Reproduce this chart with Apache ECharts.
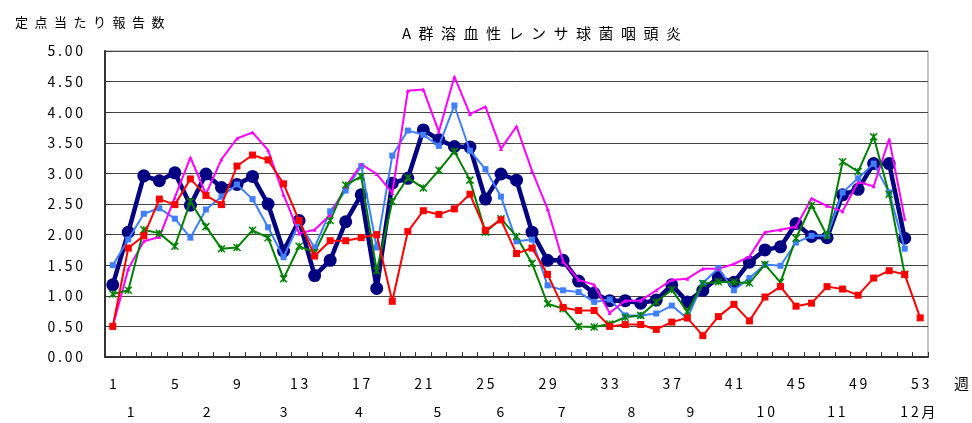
<!DOCTYPE html>
<html>
<head>
<meta charset="utf-8">
<script src="https://cdn.jsdelivr.net/npm/echarts@6/dist/echarts.min.js"></script>
<style>
html,body{margin:0;padding:0;background:#fff;}
#chart{width:972px;height:423px;}
</style>
</head>
<body>
<div id="chart"></div>
<script>
const titleText = 'A群溶血性レンサ球菌咽頭炎';
const yAxisTitle = '定点当たり報告数';
const weeks = Array.from({length: 53}, (_, i) => String(i + 1));
const yTicks = [0, 0.5, 1, 1.5, 2, 2.5, 3, 3.5, 4, 4.5, 5];
const monthLabels = ['1','2','3','4','5','6','7','8','9','10','11','12月'];
const monthWeekPos = [2.15, 7.05, 12.0, 16.85, 21.9, 25.96, 29.9, 34.4, 38.2, 43.05, 47.6, 52.85];

const seriesCurrent = [1.18, 2.04, 2.96, 2.88, 3.01, 2.48, 2.99, 2.77, 2.82, 2.95, 2.50, 1.73, 2.23, 1.33, 1.58, 2.21, 2.65, 1.12, 2.84, 2.92, 3.71, 3.55, 3.44, 3.43, 2.58, 2.99, 2.89, 2.04, 1.58, 1.58, 1.24, 1.04, 0.92, 0.92, 0.88, 0.93, 1.18, 0.90, 1.09, 1.30, 1.22, 1.55, 1.75, 1.80, 2.18, 1.97, 1.95, 2.65, 2.74, 3.16, 3.16, 1.94, null];
const seriesBlue = [1.50, 1.92, 2.34, 2.43, 2.26, 1.95, 2.41, 2.62, 2.82, 2.58, 2.12, 1.63, 2.19, 1.79, 2.38, 2.72, 3.12, 1.79, 3.29, 3.70, 3.63, 3.45, 4.11, 3.37, 3.07, 2.62, 1.89, 1.92, 1.17, 1.09, 1.06, 0.90, 0.94, 0.68, 0.68, 0.71, 0.84, 0.63, 1.21, 1.45, 1.09, 1.29, 1.51, 1.49, 1.87, 1.98, 1.98, 2.69, 2.92, 3.16, 2.69, 1.77, null];
const seriesMagenta = [0.50, 1.44, 1.89, 1.96, 2.61, 3.26, 2.66, 3.23, 3.57, 3.67, 3.38, 2.65, 2.02, 2.08, 2.32, 2.78, 3.15, 2.99, 2.68, 4.35, 4.37, 3.68, 4.58, 3.97, 4.09, 3.40, 3.77, 3.04, 2.42, 1.56, 1.26, 1.18, 0.72, 0.92, 0.92, 1.09, 1.26, 1.28, 1.44, 1.44, 1.52, 1.64, 2.04, 2.08, 2.13, 2.59, 2.47, 2.38, 2.86, 2.79, 3.56, 2.26, null];
const seriesGreen = [1.03, 1.09, 2.08, 2.02, 1.81, 2.54, 2.13, 1.77, 1.79, 2.07, 1.95, 1.28, 1.81, 1.71, 2.23, 2.81, 2.95, 1.41, 2.54, 2.93, 2.76, 3.05, 3.36, 2.89, 2.04, 2.26, 1.97, 1.53, 0.87, 0.79, 0.50, 0.49, 0.54, 0.65, 0.68, 0.90, 1.10, 0.74, 1.20, 1.23, 1.22, 1.21, 1.51, 1.22, 1.94, 2.48, 1.98, 3.19, 3.03, 3.60, 2.66, 1.35, null];
const seriesRed = [0.50, 1.78, 1.98, 2.58, 2.49, 2.91, 2.64, 2.49, 3.12, 3.30, 3.22, 2.83, 2.23, 1.65, 1.90, 1.90, 1.95, 2.00, 0.91, 2.05, 2.39, 2.33, 2.42, 2.66, 2.07, 2.24, 1.69, 1.78, 1.35, 0.81, 0.76, 0.76, 0.50, 0.53, 0.53, 0.45, 0.57, 0.64, 0.35, 0.66, 0.86, 0.59, 0.98, 1.15, 0.83, 0.88, 1.15, 1.11, 1.01, 1.29, 1.41, 1.35, 0.64];

const FONT = '"Noto Sans CJK JP", "DejaVu Sans", sans-serif';
const spaced = (s, sep) => String(s).split('').join(sep);

const chart = echarts.init(document.getElementById('chart'), null, {renderer: 'canvas'});
chart.setOption({
  animation: false,
  backgroundColor: '#fff',
  title: [
    {text: spaced(titleText, '\u2002'), left: 397, top: 21,
     textStyle: {fontFamily: FONT, fontSize: 15, fontWeight: 'normal', color: '#000'}},
    {text: spaced(yAxisTitle, '\u2002'), left: 10, top: 11,
     textStyle: {fontFamily: FONT, fontSize: 13, fontWeight: 'normal', color: '#000'}}
  ],
  grid: {left: 105, right: 44, top: 51, bottom: 66, show: true, borderColor: '#888', borderWidth: 1, containLabel: false},
  xAxis: [
    {
      type: 'category', data: weeks, boundaryGap: true, gridIndex: 0, position: 'bottom',
      axisLine: {show: true, lineStyle: {color: '#333', width: 2}},
      axisTick: {show: true, inside: true, length: 5, interval: 0, lineStyle: {color: '#333'}},
      axisLabel: {interval: 3, margin: 20, fontFamily: FONT, fontSize: 14, color: '#000',
                  hideOverlap: false, showMinLabel: true, showMaxLabel: true,
                  formatter: v => spaced(v, '\u2009')},
      splitLine: {show: false},
      name: '週', nameLocation: 'end', nameGap: 26,
      nameTextStyle: {fontFamily: FONT, fontSize: 15, color: '#000', verticalAlign: 'top', padding: [19, 0, 0, 0]}
    },
    {
      type: 'value', min: 0.5, max: 53.5, gridIndex: 0, position: 'bottom',
      axisLine: {show: false}, axisTick: {show: false}, splitLine: {show: false},
      axisLabel: {
        customValues: monthWeekPos, margin: 48, fontFamily: FONT, fontSize: 14, color: '#000',
        hideOverlap: false, showMinLabel: true, showMaxLabel: true,
        formatter: v => {
          const i = monthWeekPos.indexOf(v);
          return i >= 0 ? spaced(monthLabels[i], '\u2009') : '';
        }
      }
    }
  ],
  yAxis: {
    type: 'value', min: yTicks[0], max: yTicks[yTicks.length - 1], interval: 0.5,
    axisLine: {show: true, lineStyle: {color: '#333', width: 2}},
    axisTick: {show: true, inside: true, length: 6, lineStyle: {color: '#333'}},
    axisLabel: {margin: 22, fontFamily: FONT, fontSize: 14, color: '#000',
                formatter: v => spaced(v.toFixed(2), '\u2009')},
    splitLine: {show: true, lineStyle: {color: '#444', width: 1}}
  },
  series: [
    {name: '今年', type: 'line', data: seriesCurrent, xAxisIndex: 0, showAllSymbol: true,
     color: '#000080', lineStyle: {width: 4.5, color: '#000080'},
     symbol: 'circle', symbolSize: 13, itemStyle: {color: '#000080'}, z: 2},
    {name: '系列2', type: 'line', data: seriesBlue, xAxisIndex: 0, showAllSymbol: true,
     lineStyle: {width: 2, color: '#3f7fff'},
     symbol: 'rect', symbolSize: 6, itemStyle: {color: '#3f7fff'}, z: 3},
    {name: '系列3', type: 'line', data: seriesMagenta, xAxisIndex: 0, showAllSymbol: true,
     lineStyle: {width: 2, color: '#ff00ff'},
     symbol: 'triangle', symbolSize: 4, itemStyle: {color: '#ff00ff'}, z: 3},
    {name: '系列4', type: 'line', data: seriesGreen, xAxisIndex: 0, showAllSymbol: true,
     lineStyle: {width: 2, color: '#008000'},
     symbol: 'path://M0,0L10,10M10,0L0,10M5,0L5,10', symbolSize: 7,
     itemStyle: {color: 'none', borderColor: '#008000', borderWidth: 1.5}, z: 3},
    {name: '系列5', type: 'line', data: seriesRed, xAxisIndex: 0, showAllSymbol: true,
     lineStyle: {width: 2, color: '#ff0000'},
     symbol: 'rect', symbolSize: 7, itemStyle: {color: '#ff0000'}, z: 4}
  ]
});
</script>
</body>
</html>
